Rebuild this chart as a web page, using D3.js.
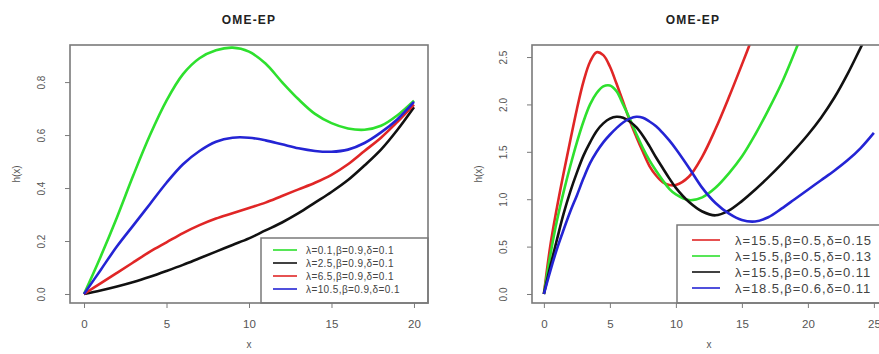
<!DOCTYPE html>
<html>
<head>
<meta charset="utf-8">
<script src="https://cdn.jsdelivr.net/npm/d3@7"></script>
<style>
  html, body { margin: 0; padding: 0; background: #fff; }
  svg { display: block; font-family: "Liberation Sans", Arial, sans-serif; }
</style>
</head>
<body>
<svg id="chart" width="879" height="354"></svg>
<script>
// left panel: lambda varies, beta=0.9, delta=0.1
const leftX = [0, 1, 2, 3, 4, 5, 6, 7, 8, 9, 10, 11, 12, 13, 14, 15, 16, 17, 18, 19, 20];
const leftGreen = [0, 0.14, 0.29, 0.45, 0.60, 0.73, 0.83, 0.89, 0.92, 0.93, 0.915, 0.87, 0.80, 0.735, 0.68, 0.645, 0.625, 0.62, 0.635, 0.675, 0.73];
const leftBlack = [0, 0.013, 0.028, 0.045, 0.065, 0.087, 0.11, 0.135, 0.16, 0.185, 0.21, 0.24, 0.27, 0.305, 0.345, 0.385, 0.43, 0.485, 0.545, 0.62, 0.705];
const leftRed = [0, 0.04, 0.08, 0.12, 0.16, 0.195, 0.23, 0.26, 0.285, 0.305, 0.325, 0.345, 0.37, 0.395, 0.42, 0.45, 0.49, 0.54, 0.59, 0.65, 0.715];
const leftBlue = [0, 0.09, 0.18, 0.26, 0.34, 0.42, 0.49, 0.54, 0.575, 0.59, 0.59, 0.58, 0.565, 0.55, 0.54, 0.537, 0.545, 0.57, 0.61, 0.66, 0.725];
const leftLabels = ['λ=0.1,β=0.9,δ=0.1', 'λ=2.5,β=0.9,δ=0.1', 'λ=6.5,β=0.9,δ=0.1', 'λ=10.5,β=0.9,δ=0.1'];

// right panel
const rightX = [0, 0.5, 1, 1.5, 2, 2.5, 3, 3.5, 4, 4.5, 5, 5.5, 6, 6.5, 7, 7.5, 8, 8.5, 9, 9.5, 10,
  11, 12, 13, 14, 15, 16, 17, 18, 19, 20, 21, 22, 23, 24, 25];
const rightRed = [0, 0.52, 0.92, 1.28, 1.62, 1.95, 2.24, 2.45, 2.55, 2.52, 2.40, 2.22, 2.03, 1.83, 1.66, 1.5, 1.35, 1.25, 1.18, 1.15, 1.15,
  1.24, 1.45, 1.74, 2.07, 2.42, 2.78, null, null, null, null, null, null, null, null, null];
const rightGreen = [0, 0.42, 0.78, 1.08, 1.35, 1.6, 1.82, 2.0, 2.12, 2.19, 2.2, 2.14, 2.0, 1.85, 1.69, 1.54, 1.41, 1.3, 1.2, 1.11, 1.05,
  0.99, 1.02, 1.12, 1.27, 1.45, 1.68, 1.94, 2.22, 2.55, 2.9, null, null, null, null, null];
const rightBlack = [0, 0.3, 0.58, 0.85, 1.08, 1.28, 1.46, 1.6, 1.72, 1.8, 1.85, 1.87, 1.86, 1.82, 1.76, 1.67, 1.56, 1.44, 1.33, 1.22, 1.12,
  0.97, 0.87, 0.83, 0.88, 0.98, 1.1, 1.23, 1.37, 1.52, 1.68, 1.86, 2.07, 2.32, 2.6, 2.88];
const rightBlue = [0, 0.25, 0.48, 0.68, 0.87, 1.04, 1.22, 1.38, 1.5, 1.6, 1.68, 1.75, 1.81, 1.85, 1.87, 1.86, 1.82, 1.77, 1.7, 1.62, 1.53,
  1.33, 1.12, 0.96, 0.85, 0.78, 0.765, 0.81, 0.9, 1.0, 1.1, 1.2, 1.3, 1.41, 1.54, 1.7];
const rightLabels = ['λ=15.5,β=0.5,δ=0.15', 'λ=15.5,β=0.5,δ=0.13', 'λ=15.5,β=0.5,δ=0.11', 'λ=18.5,β=0.6,δ=0.11'];

const leftXTicks = [0, 5, 10, 15, 20];
const leftYTicks = [0, 0.2, 0.4, 0.6, 0.8];
const rightXTicks = [0, 5, 10, 15, 20, 25];
const rightYTicks = [0, 0.5, 1, 1.5, 2, 2.5];

const GREEN = '#2ee02e';
const RED = '#e02626';
const BLUE = '#2424d4';
const BLACK = '#111111';
const BOX = '#7a7a7a';
const LABEL = '#555555';

const svg = d3.select('#chart');

function drawPanel(cfg) {
  const x = d3.scaleLinear().domain(cfg.xDomain).range([cfg.left, cfg.right]);
  const y = d3.scaleLinear().domain(cfg.yDomain).range([cfg.bottom, cfg.top]);
  const g = svg.append('g');

  g.append('clipPath').attr('id', cfg.id + '-clip')
    .append('rect')
    .attr('x', cfg.left).attr('y', cfg.top)
    .attr('width', cfg.right - cfg.left).attr('height', cfg.bottom - cfg.top);

  // title
  g.append('text')
    .attr('x', cfg.titleX).attr('y', 24)
    .attr('text-anchor', 'middle')
    .attr('font-size', 12).attr('font-weight', 'bold')
    .attr('letter-spacing', 1.2)
    .attr('fill', '#222')
    .text('OME-EP');

  // axes
  const xAxis = g.append('g')
    .attr('transform', `translate(0,${cfg.bottom})`)
    .call(d3.axisBottom(x).tickValues(cfg.xTicks).tickSize(5).tickSizeOuter(0).tickFormat(d3.format('d')));
  xAxis.select('.domain').remove();
  xAxis.selectAll('line').attr('stroke', BOX);
  xAxis.selectAll('text')
    .attr('y', 21).attr('dy', '0.35em')
    .attr('font-size', 11.5).attr('fill', LABEL)
    .attr('font-family', '"Liberation Sans", Arial, sans-serif');

  const yAxis = g.append('g')
    .attr('transform', `translate(${cfg.left},0)`)
    .call(d3.axisLeft(y).tickValues(cfg.yTicks).tickSize(5).tickSizeOuter(0).tickFormat(d3.format('.1f')));
  yAxis.select('.domain').remove();
  yAxis.selectAll('line').attr('stroke', BOX);
  yAxis.selectAll('text')
    .attr('x', 0).attr('dy', 0)
    .attr('transform', 'translate(-25,0) rotate(-90)')
    .attr('text-anchor', 'middle')
    .attr('font-size', 10).attr('fill', LABEL)
    .attr('font-family', '"Liberation Sans", Arial, sans-serif');

  // axis titles
  g.append('text')
    .attr('transform', `translate(${cfg.left - 54},${(cfg.top + cfg.bottom) / 2}) rotate(-90)`)
    .attr('text-anchor', 'middle').attr('dy', '0.35em')
    .attr('font-size', 10).attr('fill', LABEL)
    .text('h(x)');
  g.append('text')
    .attr('x', x(cfg.xMid)).attr('y', 348)
    .attr('text-anchor', 'middle')
    .attr('font-size', 10).attr('fill', LABEL)
    .text('x');

  // curves
  const line = d3.line()
    .defined(d => d[1] != null)
    .x(d => x(d[0]))
    .y(d => y(d[1]))
    .curve(d3.curveCatmullRom.alpha(0.5));

  const curves = g.append('g').attr('clip-path', `url(#${cfg.id}-clip)`);
  cfg.series.forEach(s => {
    curves.append('path')
      .datum(cfg.xs.map((v, i) => [v, s.values[i]]))
      .attr('d', line)
      .attr('fill', 'none')
      .attr('stroke', s.color)
      .attr('stroke-width', 2.6)
      .attr('stroke-linejoin', 'round');
  });

  // legend
  const lg = g.append('g');
  lg.append('rect')
    .attr('x', cfg.legend.x).attr('y', cfg.legend.y)
    .attr('width', cfg.legend.w).attr('height', cfg.bottom - cfg.legend.y)
    .attr('fill', '#fff').attr('stroke', BOX).attr('stroke-width', 1.5);
  cfg.series.forEach((s, i) => {
    const ry = cfg.legend.y + cfg.legend.first + i * cfg.legend.step;
    lg.append('line')
      .attr('x1', cfg.legend.x + cfg.legend.lineX).attr('x2', cfg.legend.x + cfg.legend.lineX + cfg.legend.lineW)
      .attr('y1', ry).attr('y2', ry)
      .attr('stroke', s.color).attr('stroke-width', 1.6);
    lg.append('text')
      .attr('x', cfg.legend.x + cfg.legend.textX).attr('y', ry)
      .attr('dy', '0.35em')
      .attr('font-size', cfg.legend.fontSize)
      .attr('letter-spacing', cfg.legend.spacing)
      .attr('fill', '#444')
      .text(s.label);
  });

  // plot box
  g.append('rect')
    .attr('x', cfg.left).attr('y', cfg.top)
    .attr('width', cfg.right - cfg.left).attr('height', cfg.bottom - cfg.top)
    .attr('fill', 'none').attr('stroke', BOX).attr('stroke-width', 1.6);
}

drawPanel({
  id: 'left',
  left: 70, right: 428, top: 45, bottom: 303,
  xDomain: [-0.85, 20.85], yDomain: [-0.034, 0.94],
  xTicks: leftXTicks, yTicks: leftYTicks,
  titleX: 249, xMid: 10,
  xs: leftX,
  series: [
    { values: leftGreen, color: GREEN, label: leftLabels[0] },
    { values: leftBlack, color: BLACK, label: leftLabels[1] },
    { values: leftRed, color: RED, label: leftLabels[2] },
    { values: leftBlue, color: BLUE, label: leftLabels[3] }
  ],
  legend: { x: 261, y: 238, w: 167, first: 12, step: 13, lineX: 12, lineW: 24, textX: 45, fontSize: 10, spacing: 0.4 }
});

drawPanel({
  id: 'right',
  left: 532, right: 888, top: 45, bottom: 303,
  xDomain: [-0.9, 26.07], yDomain: [-0.095, 2.627],
  xTicks: rightXTicks, yTicks: rightYTicks,
  titleX: 693, xMid: 12.5,
  xs: rightX,
  series: [
    { values: rightRed, color: RED, label: rightLabels[0] },
    { values: rightGreen, color: GREEN, label: rightLabels[1] },
    { values: rightBlack, color: BLACK, label: rightLabels[2] },
    { values: rightBlue, color: BLUE, label: rightLabels[3] }
  ],
  legend: { x: 677, y: 225, w: 220, first: 15, step: 16, lineX: 15, lineW: 28, textX: 58, fontSize: 13, spacing: 0.9 }
});
</script>
</body>
</html>
